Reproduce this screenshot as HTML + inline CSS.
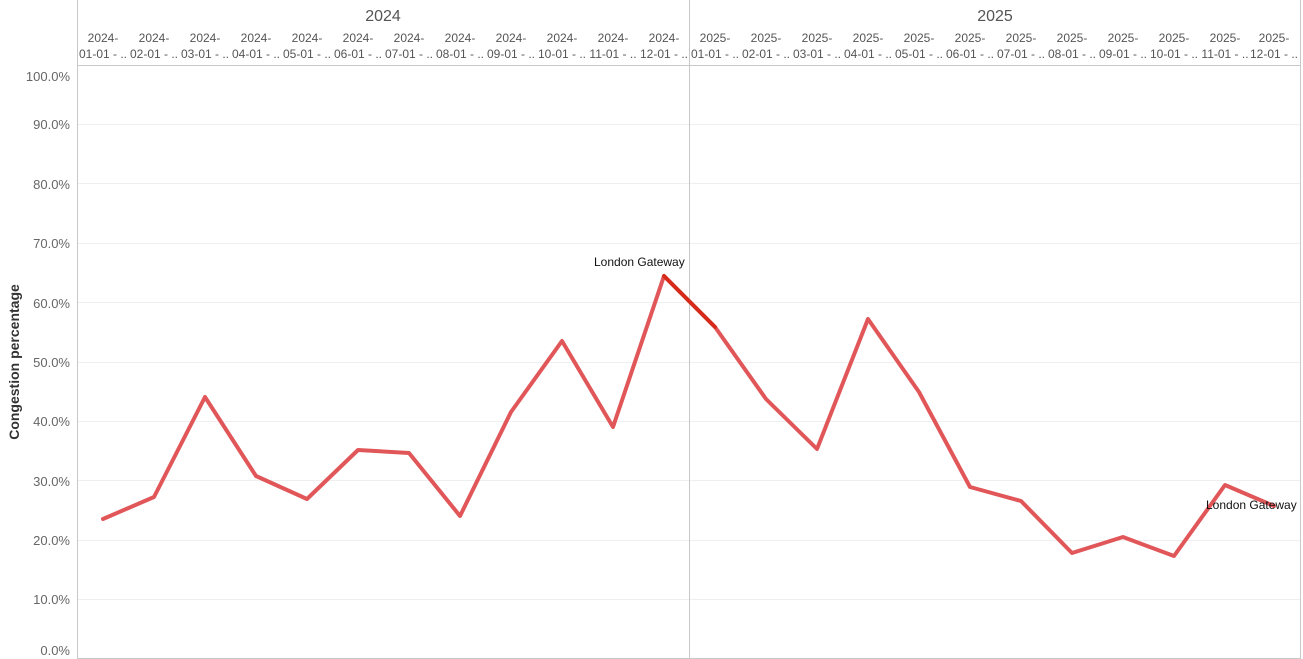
<!DOCTYPE html>
<html><head><meta charset="utf-8"><style>
body{margin:0;background:#fff;}
svg{display:block;font-family:"Liberation Sans",sans-serif;}
</style></head><body>
<svg width="1303" height="659" viewBox="0 0 1303 659" xmlns="http://www.w3.org/2000/svg">
<rect width="1303" height="659" fill="#fff"/>
<!-- grid -->
<g stroke="#efefef" stroke-width="1">
<line x1="78" x2="1300" y1="124.5" y2="124.5"/>
<line x1="78" x2="1300" y1="183.5" y2="183.5"/>
<line x1="78" x2="1300" y1="243.5" y2="243.5"/>
<line x1="78" x2="1300" y1="302.5" y2="302.5"/>
<line x1="78" x2="1300" y1="362.5" y2="362.5"/>
<line x1="78" x2="1300" y1="421.5" y2="421.5"/>
<line x1="78" x2="1300" y1="480.5" y2="480.5"/>
<line x1="78" x2="1300" y1="540.5" y2="540.5"/>
<line x1="78" x2="1300" y1="599.5" y2="599.5"/>
</g>
<!-- borders -->
<g stroke="#c8c8c8" stroke-width="1">
<line x1="77.5" x2="77.5" y1="0" y2="659"/>
<line x1="689.5" x2="689.5" y1="0" y2="659"/>
<line x1="1300.5" x2="1300.5" y1="0" y2="659"/>
<line x1="77" x2="1301" y1="65.5" y2="65.5"/>
<line x1="77" x2="1301" y1="658.5" y2="658.5"/>
</g>
<!-- years -->
<g font-size="16" fill="#555" text-anchor="middle">
<text x="383" y="21">2024</text>
<text x="995" y="21">2025</text>
</g>
<!-- month headers -->
<g font-size="12" fill="#555" text-anchor="middle" id="mh"></g>
<!-- y labels -->
<g font-size="13" fill="#666" text-anchor="end">
<text x="70" y="81">100.0%</text>
<text x="70" y="129">90.0%</text>
<text x="70" y="189">80.0%</text>
<text x="70" y="248">70.0%</text>
<text x="70" y="308">60.0%</text>
<text x="70" y="367">50.0%</text>
<text x="70" y="426">40.0%</text>
<text x="70" y="486">30.0%</text>
<text x="70" y="545">20.0%</text>
<text x="70" y="604">10.0%</text>
<text x="70" y="655">0.0%</text>
</g>
<text transform="translate(19,362) rotate(-90)" font-size="14" font-weight="bold" fill="#333" text-anchor="middle">Congestion percentage</text>
<polyline fill="none" stroke="#e15759" stroke-width="4" stroke-linejoin="round" stroke-linecap="round"
points="103,519 154,497 205,397 256,476 307,499 358,450 409,453 460,516 511,412 562,341 613,427 664,276 715,327 766,399 817,449 868,319 919,392 970,487 1021,501 1072,553 1123,537 1174,556 1225,485 1274,506"/>
<line x1="664" y1="276" x2="715" y2="327" stroke="#d62a1a" stroke-width="4" stroke-linecap="round"/>
<g font-size="12" fill="#111">
<text x="594" y="266">London Gateway</text>
<text x="1206" y="509">London Gateway</text>
</g>
<g font-size="12" fill="#555" text-anchor="middle">
<text x="103" y="42">2024-</text><text x="103" y="58">01-01 - ..</text>
<text x="154" y="42">2024-</text><text x="154" y="58">02-01 - ..</text>
<text x="205" y="42">2024-</text><text x="205" y="58">03-01 - ..</text>
<text x="256" y="42">2024-</text><text x="256" y="58">04-01 - ..</text>
<text x="307" y="42">2024-</text><text x="307" y="58">05-01 - ..</text>
<text x="358" y="42">2024-</text><text x="358" y="58">06-01 - ..</text>
<text x="409" y="42">2024-</text><text x="409" y="58">07-01 - ..</text>
<text x="460" y="42">2024-</text><text x="460" y="58">08-01 - ..</text>
<text x="511" y="42">2024-</text><text x="511" y="58">09-01 - ..</text>
<text x="562" y="42">2024-</text><text x="562" y="58">10-01 - ..</text>
<text x="613" y="42">2024-</text><text x="613" y="58">11-01 - ..</text>
<text x="664" y="42">2024-</text><text x="664" y="58">12-01 - ..</text>
<text x="715" y="42">2025-</text><text x="715" y="58">01-01 - ..</text>
<text x="766" y="42">2025-</text><text x="766" y="58">02-01 - ..</text>
<text x="817" y="42">2025-</text><text x="817" y="58">03-01 - ..</text>
<text x="868" y="42">2025-</text><text x="868" y="58">04-01 - ..</text>
<text x="919" y="42">2025-</text><text x="919" y="58">05-01 - ..</text>
<text x="970" y="42">2025-</text><text x="970" y="58">06-01 - ..</text>
<text x="1021" y="42">2025-</text><text x="1021" y="58">07-01 - ..</text>
<text x="1072" y="42">2025-</text><text x="1072" y="58">08-01 - ..</text>
<text x="1123" y="42">2025-</text><text x="1123" y="58">09-01 - ..</text>
<text x="1174" y="42">2025-</text><text x="1174" y="58">10-01 - ..</text>
<text x="1225" y="42">2025-</text><text x="1225" y="58">11-01 - ..</text>
<text x="1274" y="42">2025-</text><text x="1274" y="58">12-01 - ..</text>
</g>
</svg>
</body></html>
